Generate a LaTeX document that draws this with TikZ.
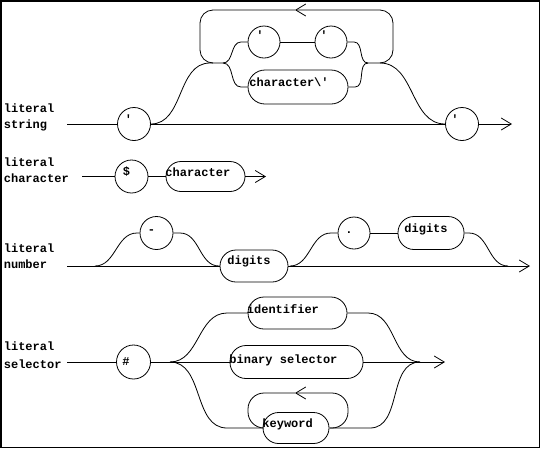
\documentclass[tikz,border=0pt]{standalone}
\usepackage{fontspec}
\setmonofont{Liberation Mono}
\usetikzlibrary{arrows.meta}
\begin{document}
\begin{tikzpicture}[x=1pt,y=-1pt,line width=0.8pt,
  txt/.style={font=\ttfamily\bfseries\fontsize{12}{14}\selectfont,inner sep=0pt,anchor=base west},
  circ/.style={draw,circle,inner sep=0pt,minimum size=33pt},
  pill/.style={draw,rectangle,inner sep=0pt,rounded corners=16pt,minimum height=33pt},
  arr/.style={-{Straight Barb[length=10pt,width=12pt]}},
  sc/.style={out=0,in=180}]
\useasboundingbox (0,0) rectangle (540,448);
\draw[line width=1.5pt] (0.75,0.75) rectangle (539.25,447.25);

% ---------- row 1: literal string ----------
\node[txt] (l1a) at (3.5,112) {literal};
\node[txt] (l1b) at (3.5,128) {string};
\node[circ] (q1) at (134,124) {};
\node[circ,minimum size=32pt] (q2) at (264,42) {};
\node[circ,minimum size=32pt] (q3) at (331,42) {};
\node[circ] (q4) at (462,124) {};
\node[pill,minimum width=100pt,minimum height=34pt,rounded corners=17pt] (b1) at (298,87) {};
\node[txt] (tq1) at (124.5,123) {\textquotesingle};
\node[txt] (tq2) at (256,39) {\textquotesingle};
\node[txt] (tq3) at (320,39) {\textquotesingle};
\node[txt] (tq4) at (451,123) {\textquotesingle};
\node[txt] (tb1) at (249,86) {character\textbackslash\textquotesingle};
\coordinate (s1) at (67,124);
\coordinate (e1) at (512,124);
\coordinate (ja) at (210,63);
\coordinate (jb) at (223,63);
\coordinate (ka) at (368,63);
\coordinate (kb) at (380,63);
\coordinate (u1) at (241,42);
\coordinate (u2) at (354,42);
\coordinate (d1) at (241,87);
\coordinate (d2) at (355,87);
\coordinate (lt) at (295,10);
\coordinate (lr) at (393,10);
\coordinate (lbl) at (200,63);
\coordinate (lbj) at (213,63);
\draw (s1) -- (q1);
\draw (q1) -- (q4);
\draw (q1.east) to[sc] (ja) -- (jb);
\draw (jb) to[sc] (u1) -- (q2);
\draw (q2) -- (q3);
\draw (q3) -- (u2) to[sc] (ka);
\draw (jb) to[sc] (d1) -- (b1);
\draw (b1) -- (d2) to[sc] (ka);
\draw (ka) -- (kb) to[sc] (q4.west);
\draw[arr] (q4) -- (e1);
\draw[arr,rounded corners=13pt] (kb) -| (lr) -- (lt);
\draw[rounded corners=13pt] (lt) -| (lbl) -- (lbj);

% ---------- row 2: literal character ----------
\node[txt] (l2a) at (3.5,166) {literal};
\node[txt] (l2b) at (3.5,182) {character};
\coordinate (s2) at (82,176.5);
\node[circ] (dol) at (131.5,176.5) {};
\node[pill,minimum width=79pt,minimum height=30pt,rounded corners=15pt] (b2) at (205.5,176.5) {};
\coordinate (e2) at (266,176.5);
\node[txt] (tdol) at (122.5,175) {\$};
\node[txt] (tb2) at (165,176) {character};
\draw (s2) -- (dol);
\draw (dol) -- (b2);
\draw[arr] (b2) -- (e2);

% ---------- row 3: literal number ----------
\node[txt] (l3a) at (3.5,252) {literal};
\node[txt] (l3b) at (3.5,268) {number};
\coordinate (s3) at (67,266);
\coordinate (f1) at (95,266);
\coordinate (f2) at (137,233);
\node[circ] (mi) at (156.5,233) {};
\coordinate (f3) at (180,233);
\coordinate (f4) at (219,266);
\node[pill,minimum width=68pt,minimum height=32pt] (dg1) at (254,266) {};
\coordinate (g1) at (290,266);
\coordinate (g2) at (331,233);
\node[circ,minimum size=32pt] (dot) at (354,233) {};
\node[pill,minimum width=66pt,minimum height=33pt] (dg2) at (431,233) {};
\coordinate (g3) at (469,233);
\coordinate (g4) at (508,266);
\coordinate (e3) at (530,266);
\node[txt] (tmi) at (147.5,233.5) {-};
\node[txt] (tdot) at (345,233) {.};
\node[txt] (tdg1) at (227,264) {digits};
\node[txt] (tdg2) at (404,232) {digits};
\draw (s3) -- (dg1);
\draw (f1) to[sc] (f2) -- (mi);
\draw (mi) -- (f3) to[sc] (f4) -- (dg1);
\draw[arr] (dg1) -- (e3);
\draw (g1) to[sc] (g2) -- (dot);
\draw (dot) -- (dg2);
\draw (dg2) -- (g3) to[sc] (g4);

% ---------- row 4: literal selector ----------
\node[txt] (l4a) at (3.5,350) {literal};
\node[txt] (l4b) at (3.5,368) {selector};
\coordinate (s4) at (67,362);
\node[circ,minimum size=34pt] (hs) at (133.5,362) {};
\coordinate (h1) at (170,362);
\coordinate (h2) at (227,313);
\coordinate (h3) at (227,428);
\node[pill,minimum width=99pt,minimum height=32pt] (id) at (297.5,313) {};
\node[pill,minimum width=133pt,minimum height=33pt] (bs) at (296.5,362) {};
\node[pill,minimum width=66pt,minimum height=31pt,rounded corners=15.5pt] (kw) at (296,428) {};
\coordinate (i1) at (368,313);
\coordinate (i2) at (370,428);
\coordinate (h4) at (420,362);
\coordinate (e4) at (445,362);
\coordinate (kr) at (330,428);
\coordinate (kc) at (348,393);
\coordinate (ka4) at (295,393);
\coordinate (kl) at (248,428);
\coordinate (kle) at (264,428);
\node[txt] (ths) at (122,365) {\#};
\node[txt] (tid) at (246.5,313.5) {identifier};
\node[txt] (tbs) at (229,363) {binary selector};
\node[txt] (tkw) at (262,427) {keyword};
\draw (s4) -- (hs);
\draw (hs) -- (h1);
\draw (h1) to[sc] (h2) -- (id);
\draw (h1) -- (bs);
\draw (h1) to[sc] (h3) -- (kw);
\draw (id) -- (i1) to[sc] (h4);
\draw (bs) -- (h4);
\draw (kw) -- (i2) to[sc] (h4);
\draw[arr] (h4) -- (e4);
\draw[arr,rounded corners=16pt] (kr) -| (kc) -- (ka4);
\draw[rounded corners=16pt] (ka4) -| (kl) -- (kle);
\end{tikzpicture}
\end{document}
